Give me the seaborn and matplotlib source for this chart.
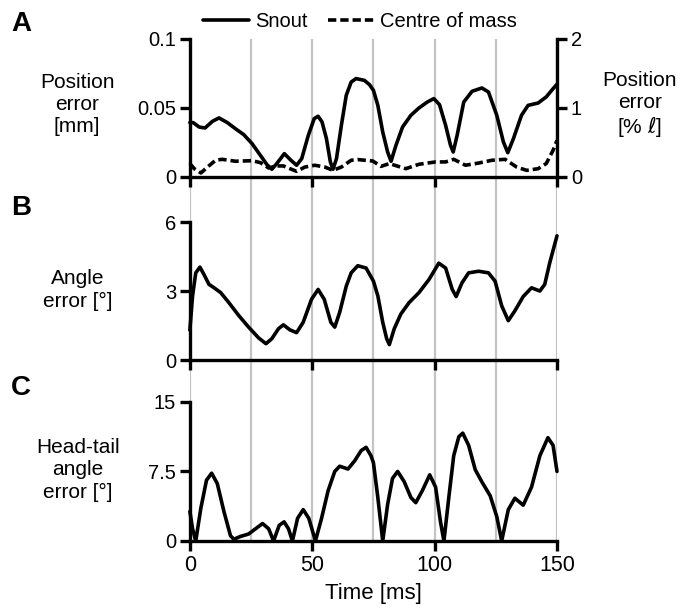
import matplotlib
matplotlib.use("Agg")
import matplotlib.pyplot as plt
import seaborn as sns
import pandas as pd

# ---- data ----
snout_t = [0, 1.35, 3.8, 6.2, 9.2, 11.9, 15.3, 18.6, 22, 25.4, 28.8, 31.5, 33.5, 35.5, 38.6,
           41.3, 43.6, 45.7, 48.4, 50.8, 52.4, 54, 55.8, 57.4, 58.5, 59.9, 61.9, 63.9, 65.9,
           67.9, 71.3, 73.4, 75, 76.8, 78.8, 80.8, 82.2, 84.2, 86.9, 90.3, 93.6, 97, 99.7, 102,
           104.5, 106.5, 107.6, 109.2, 111.9, 115.3, 119.3, 122, 125.4, 128.1, 129.9, 132.2,
           135.5, 138.2, 142.3, 145.6, 148.4, 150]
snout_v = [0.0394, 0.0394, 0.0362, 0.0355, 0.0403, 0.0428, 0.0394, 0.035, 0.0307, 0.0242,
           0.0157, 0.0089, 0.0056, 0.0097, 0.0169, 0.0121, 0.0085, 0.0133, 0.0302, 0.0423,
           0.044, 0.0399, 0.0278, 0.0109, 0.0056, 0.0133, 0.0374, 0.0592, 0.0688, 0.0713,
           0.07, 0.0669, 0.0628, 0.0519, 0.0326, 0.0181, 0.0114, 0.0229, 0.0362, 0.0447, 0.05,
           0.0543, 0.0568, 0.0524, 0.0374, 0.0229, 0.0181, 0.0302, 0.0543, 0.0621, 0.0645,
           0.0616, 0.0447, 0.0254, 0.0176, 0.0278, 0.0447, 0.0519, 0.0536, 0.058, 0.064,
           0.0672]

com_t = [0, 1.8, 4.5, 7.2, 10.5, 13.2, 18.6, 25.4, 28.8, 32.2, 35.5, 38.2, 40.9, 43.6, 47,
         51.1, 55.1, 58.5, 61.9, 65.9, 68.6, 74.7, 78.1, 81.5, 88.2, 93.6, 100.4, 104.5, 107.8,
         112.6, 118, 123.4, 128.8, 133.5, 137.6, 142.3, 145.6, 148.4, 150]
com_v = [0.0097, 0.006, 0.0029, 0.0072, 0.0121, 0.0128, 0.0114, 0.0118, 0.0104, 0.0065, 0.008,
         0.008, 0.006, 0.0041, 0.0072, 0.0085, 0.0072, 0.0048, 0.0072, 0.0121, 0.0126, 0.0116,
         0.0077, 0.0097, 0.006, 0.0092, 0.0109, 0.0109, 0.0128, 0.0085, 0.0101, 0.0121,
         0.0128, 0.0072, 0.0048, 0.006, 0.0097, 0.0193, 0.0265]

angle_t = [0, 1.1, 2.4, 4.1, 5.8, 7.8, 9.9, 12.6, 15.9, 20, 24, 28.1, 31.1, 33.5, 36.2, 38.2,
           40.9, 43.6, 46.3, 49.7, 52.4, 54.9, 57.6, 59.2, 61.2, 63.9, 65.9, 68.6, 72, 75,
           76.8, 78.8, 80.4, 81.5, 83.5, 86.2, 89.6, 93.6, 97.7, 101.7, 104.5, 107.2, 108.8,
           111.2, 113.9, 118, 122, 124.7, 127.4, 130.1, 132.8, 136.2, 139.6, 143, 145, 147,
           150]
angle_v = [1.3, 2.79, 3.79, 4.04, 3.71, 3.29, 3.14, 2.93, 2.5, 1.93, 1.43, 0.96, 0.71, 0.93,
           1.36, 1.53, 1.31, 1.19, 1.64, 2.64, 3.07, 2.64, 1.64, 1.43, 2.07, 3.21, 3.79, 4.1,
           4.0, 3.43, 2.79, 1.64, 0.93, 0.67, 1.36, 2.0, 2.5, 2.93, 3.5, 4.21, 4.0, 3.07, 2.76,
           3.36, 3.79, 3.86, 3.79, 3.43, 2.36, 1.71, 2.14, 2.76, 3.14, 3.0, 3.29, 4.21, 5.4]

ht_t = [0, 1.1, 2.4, 4.5, 6.8, 8.9, 11.2, 13.9, 16.6, 18, 20.7, 24, 26.8, 29.7, 32.2, 34.2,
        36.5, 38.5, 40.3, 41.9, 44, 46.3, 48.6, 51.3, 53.8, 56.5, 59.2, 61.2, 64.6, 67.3, 70,
        72, 74, 75, 76.8, 78.8, 80.8, 82.8, 84.9, 87.6, 90.3, 92.3, 95, 98, 100.4, 102.4,
        103.8, 105.8, 107.8, 109.9, 111.5, 113.9, 116.6, 119.3, 122.7, 125.4, 127.4, 130.1,
        132.8, 136.2, 139.6, 143, 146.3, 148.4, 150]
ht_v = [3.19, 1.31, 0, 3.56, 6.56, 7.31, 6.19, 3.19, 0.56, 0.19, 0.49, 0.75, 1.31, 1.88, 1.31,
        0, 1.69, 2.06, 1.31, 0, 2.44, 3.38, 2.44, 0, 2.44, 5.44, 7.5, 8.06, 7.76, 8.63, 9.75,
        10.1, 9.19, 8.44, 4.69, 0, 3.94, 6.75, 7.5, 6.38, 4.69, 4.13, 5.44, 7.13, 5.81, 2.06,
        0, 4.69, 9.19, 11.25, 11.63, 10.31, 7.69, 6.38, 4.88, 2.63, 0, 3.38, 4.61, 3.86,
        5.81, 9.19, 11.14, 10.31, 7.5]

grid_t = [0, 25, 50, 75, 100, 125, 150]
x_ticks = [0, 50, 100, 150]

# ---- style ----
sns.set_style("ticks")
plt.rcParams["font.family"] = ["Liberation Sans", "DejaVu Sans"]
plt.rcParams["mathtext.fontset"] = "dejavusans"
for k in ["text.color", "axes.labelcolor", "xtick.color", "ytick.color", "axes.edgecolor"]:
    plt.rcParams[k] = "black"
FT = 14.5   # tick labels
FL = 15     # axis labels
LW = 2.6
SP = 2.4

fig = plt.figure(figsize=(6.83, 6.13), dpi=100)

L, W = 0.278, 0.5375
posA = [L, 0.7113, W, 0.2251]
posB = [L, 0.4127, W, 0.2251]
posC = [L, 0.1175, W, 0.2269]

# background gray lines spanning all panels
bg = fig.add_axes([L, 0.1175, W, 0.9364 - 0.1175], zorder=0)
bg.set_xlim(0, 150)
bg.set_ylim(0, 1)
bg.axis("off")
for g in grid_t:
    bg.axvline(g, color="#c4c4c4", lw=1.6)


def style_ax(ax, ylim, yticks, ylabels, show_x=False):
    ax.patch.set_alpha(0)
    ax.set_xlim(0, 150)
    ax.set_ylim(*ylim)
    ax.set_yticks(yticks)
    ax.set_yticklabels(ylabels, fontsize=FT)
    ax.set_xticks(x_ticks)
    if show_x:
        ax.set_xticklabels([str(t) for t in x_ticks], fontsize=FT + 1)
    else:
        ax.set_xticklabels([])
    ax.tick_params(direction="out", length=7, width=SP, pad=3, color="black")
    for s in ["left", "bottom"]:
        ax.spines[s].set_linewidth(SP)
        ax.spines[s].set_color("black")
    ax.spines["top"].set_visible(False)
    ax.spines["right"].set_visible(False)
    ax.set_xlabel("")
    ax.set_ylabel("")


# Panel A
axA = fig.add_axes(posA, zorder=2)
dfA1 = pd.DataFrame({"t": snout_t, "v": snout_v})
dfA2 = pd.DataFrame({"t": com_t, "v": com_v})
sns.lineplot(data=dfA1, x="t", y="v", ax=axA, color="black", lw=LW, label="Snout",
             clip_on=False)
sns.lineplot(data=dfA2, x="t", y="v", ax=axA, color="black", lw=LW, linestyle=(0, (2.3, 1.1)),
             label="Centre of mass", clip_on=False)
style_ax(axA, (0, 0.1), [0, 0.05, 0.1], ["0", "0.05", "0.1"])
axA.legend(loc="lower center", bbox_to_anchor=(0.463, 0.985), ncol=2, frameon=False,
           fontsize=FT, handlelength=2.3, columnspacing=1.0, handletextpad=0.3,
           borderaxespad=0.1)
axA2 = axA.twinx()
axA2.set_ylim(0, 2)
axA2.set_yticks([0, 1, 2])
axA2.set_yticklabels(["0", "1", "2"], fontsize=FT)
axA2.tick_params(direction="out", length=7, width=SP, pad=3)
axA2.spines["right"].set_linewidth(SP)
axA2.spines["right"].set_color("black")
for s in ["top", "left", "bottom"]:
    axA2.spines[s].set_visible(False)
axA2.patch.set_alpha(0)

# Panel B
axB = fig.add_axes(posB, zorder=2)
dfB = pd.DataFrame({"t": angle_t, "v": angle_v})
sns.lineplot(data=dfB, x="t", y="v", ax=axB, color="black", lw=LW, clip_on=False)
style_ax(axB, (0, 6), [0, 3, 6], ["0", "3", "6"])

# Panel C
axC = fig.add_axes(posC, zorder=2)
dfC = pd.DataFrame({"t": ht_t, "v": ht_v})
sns.lineplot(data=dfC, x="t", y="v", ax=axC, color="black", lw=LW, clip_on=False)
style_ax(axC, (0, 15), [0, 7.5, 15], ["0", "7.5", "15"], show_x=True)
axC.set_xlabel("Time [ms]", fontsize=16, labelpad=5)

# y labels as figure text
fig.text(77 / 683, 1 - 105 / 613, "Position\nerror\n[mm]", ha="center", va="center",
         fontsize=FL, linespacing=1.2)
fig.text(640 / 683, 1 - 105 / 613, "Position\nerror\n[% $\\ell$]", ha="center", va="center",
         fontsize=FL, linespacing=1.2)
fig.text(78 / 683, 1 - 290 / 613, "Angle\nerror [°]", ha="center", va="center",
         fontsize=FL, linespacing=1.2)
fig.text(78 / 683, 1 - 470 / 613, "Head-tail\nangle\nerror [°]", ha="center", va="center",
         fontsize=FL, linespacing=1.2)

# panel letters
for letter, ytop in [("A", 11), ("B", 195), ("C", 375)]:
    fig.text(11 / 683, 1 - ytop / 613, letter, ha="left", va="top", fontsize=20,
             fontweight="bold")

fig.savefig("out.png", dpi=100)
